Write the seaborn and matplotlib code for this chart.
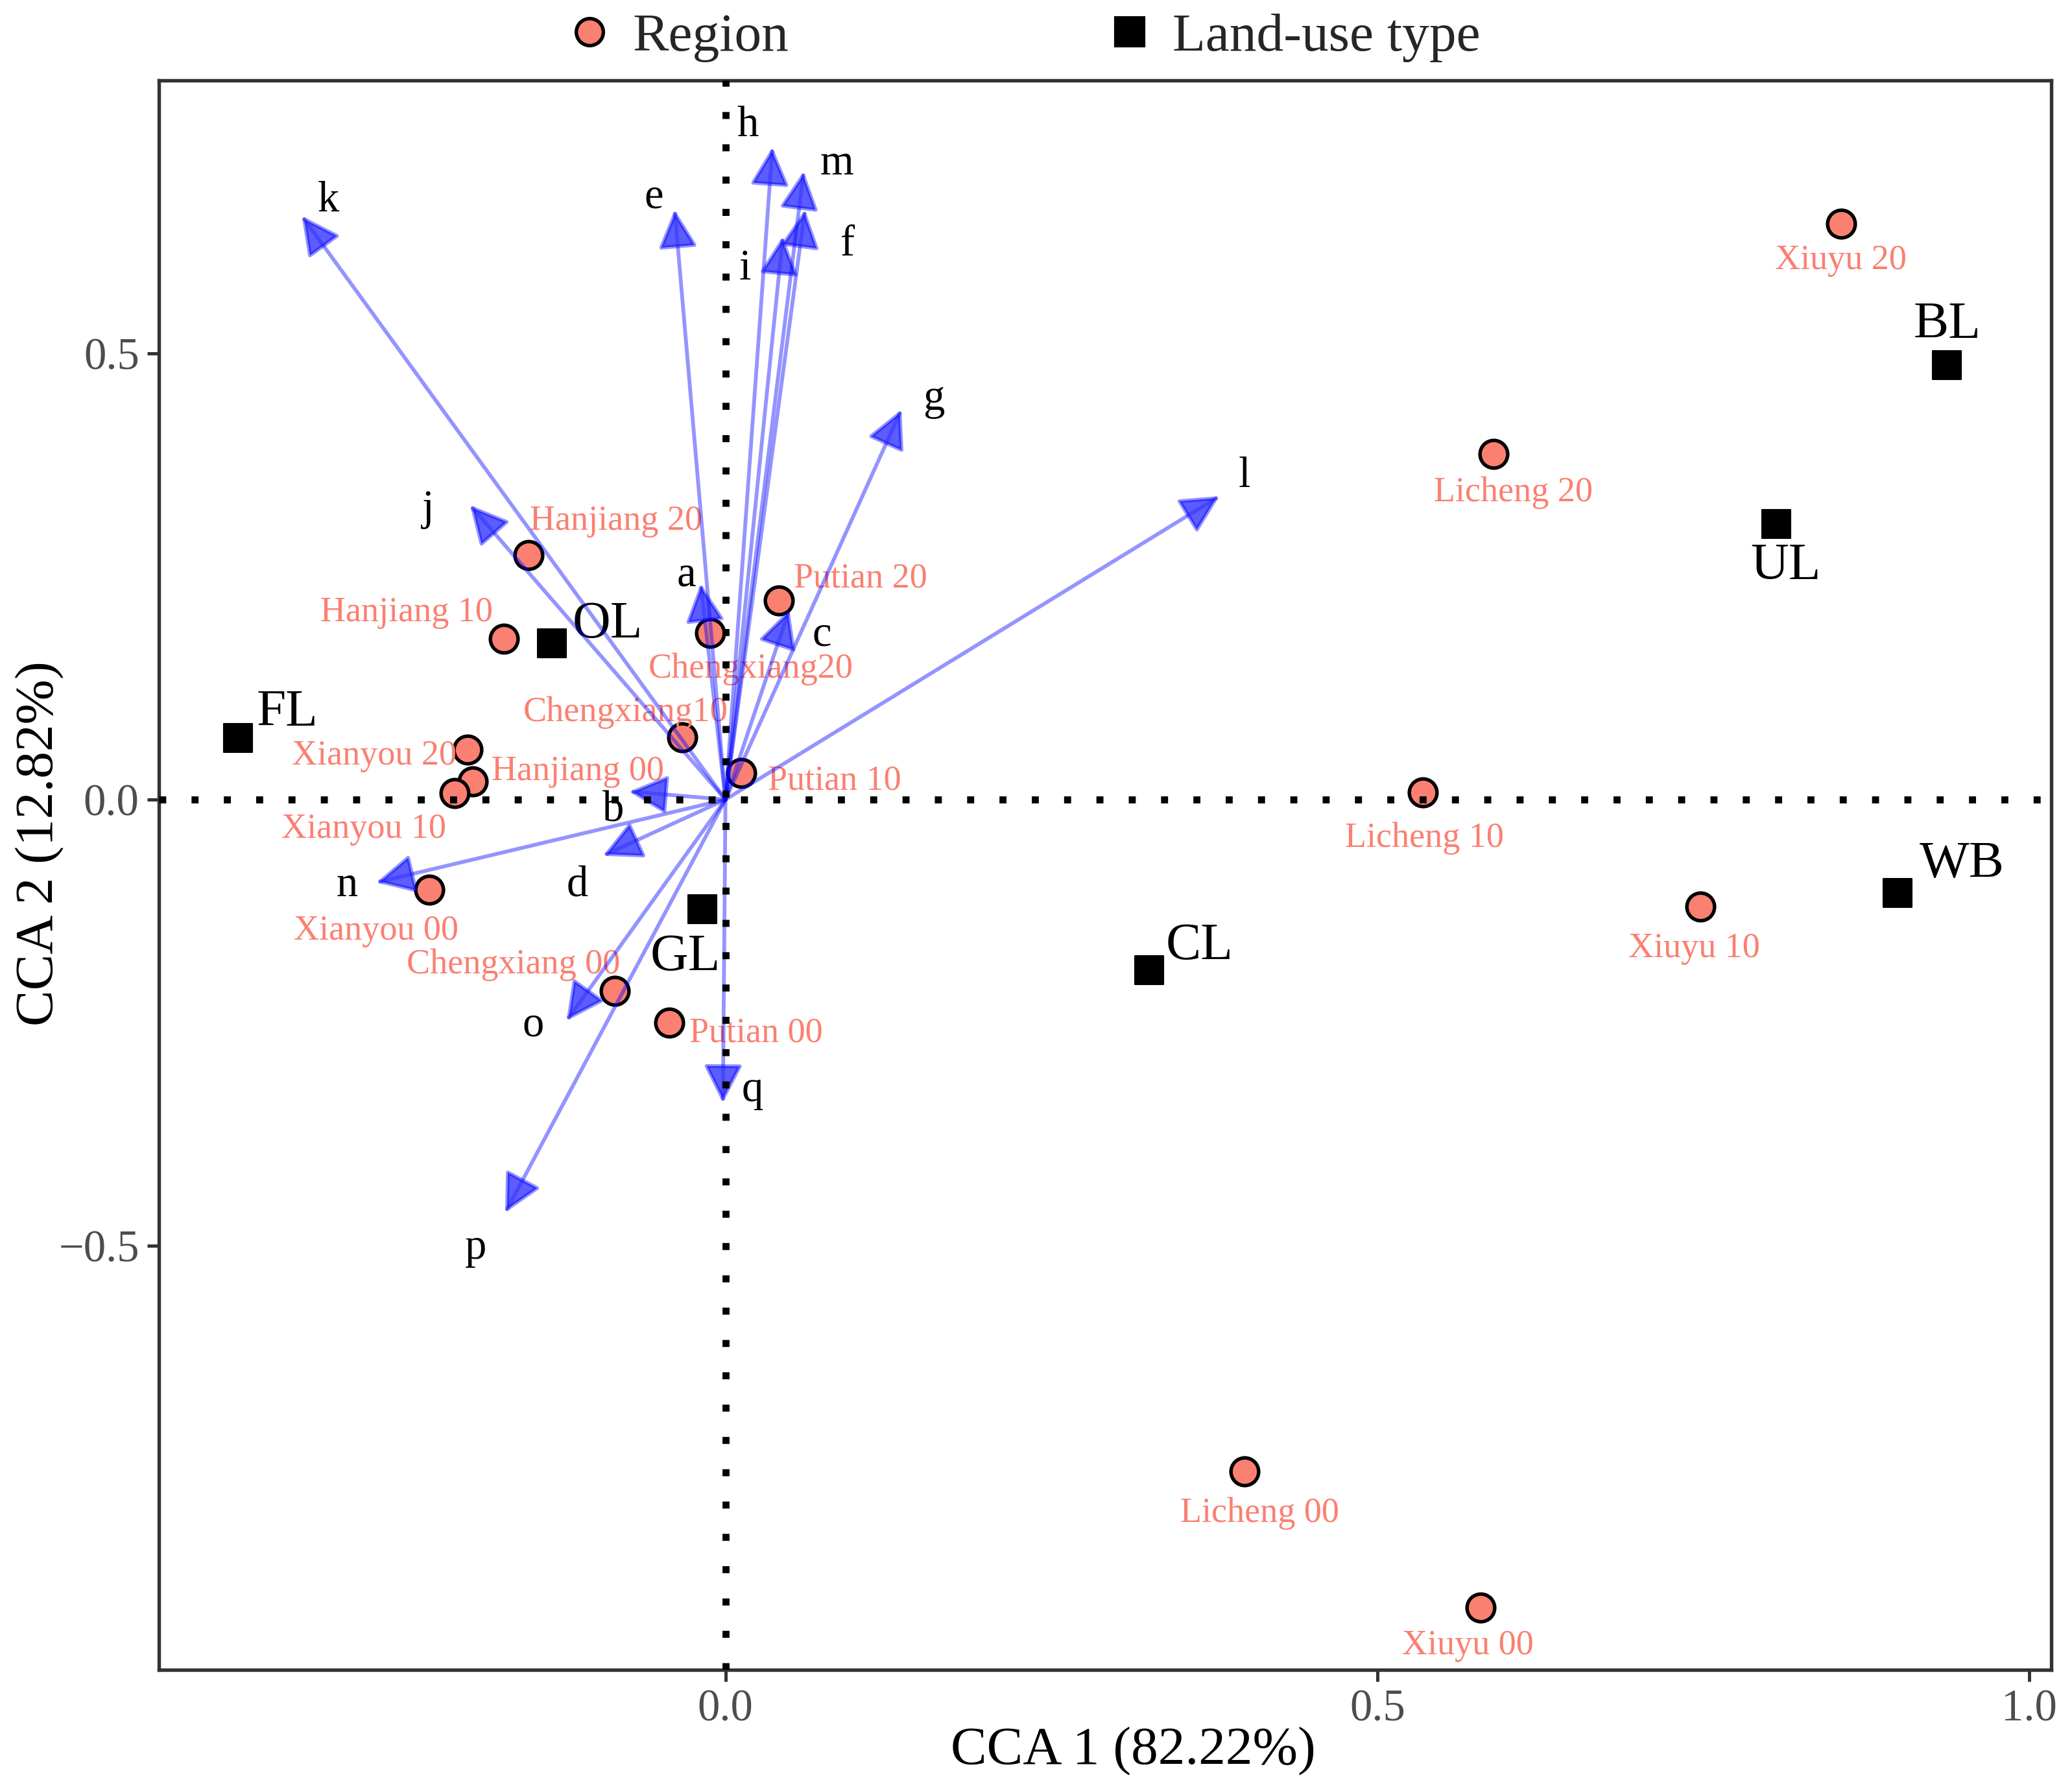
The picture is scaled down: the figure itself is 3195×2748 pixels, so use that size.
import numpy as np
import pandas as pd
import seaborn as sns
import matplotlib.pyplot as plt
from matplotlib.lines import Line2D

# Region (site) scores on CCA1 / CCA2
regions = ["Xiuyu 20", "Licheng 20", "Hanjiang 20", "Putian 20", "Chengxiang20", "Hanjiang 10",
           "Chengxiang10", "Xianyou 20", "Hanjiang 00", "Xianyou 10", "Putian 10", "Licheng 10",
           "Xianyou 00", "Xiuyu 10", "Chengxiang 00", "Putian 00", "Licheng 00", "Xiuyu 00"]
region_x = [0.856, 0.589, -0.151, 0.041, -0.012, -0.170, -0.033, -0.198, -0.194, -0.208,
            0.012, 0.535, -0.227, 0.748, -0.085, -0.043, 0.398, 0.579]
region_y = [0.645, 0.387, 0.274, 0.223, 0.187, 0.180, 0.070, 0.056, 0.020, 0.007,
            0.030, 0.008, -0.101, -0.120, -0.214, -0.250, -0.753, -0.905]

# Land-use type scores
landuse = ["BL", "UL", "WB", "OL", "FL", "GL", "CL"]
landuse_x = [0.937, 0.806, 0.899, -0.133, -0.374, -0.018, 0.325]
landuse_y = [0.487, 0.309, -0.105, 0.175, 0.069, -0.123, -0.191]

# Environmental variable arrows (tips)
variables = list("abcdefghijklmnopq")
var_x = [-0.019, -0.074, 0.049, -0.094, -0.039, 0.061, 0.135, 0.036, 0.044,
         -0.196, -0.325, 0.379, 0.060, -0.268, -0.122, -0.169, -0.002]
var_y = [0.242, 0.009, 0.213, -0.063, 0.661, 0.661, 0.437, 0.731, 0.631,
         0.330, 0.654, 0.340, 0.704, -0.093, -0.248, -0.463, -0.340]

# label offsets (points) so the text sits beside each mark
region_off = [(-0.3, -13.6), (7.4, -14.2), (32.4, 12.5), (30.1, 8.2), (15.2, -13.5), (-36, 9.8),
              (-21.1, 9.2), (-34.5, -2.3), (39, 3.8), (-33.4, -13.3), (34.6, -3), (0.6, -16.9),
              (-19.8, -15.2), (-2.3, -15.6), (-37.5, 9.5), (32, -4), (5.6, -15.4), (-4.6, -14.1)]
landuse_off = [(0.2, 14.7), (3.4, -15.9), (23.9, 10.5), (20.4, 6.8), (18.2, 9.3), (-6.1, -17.9), (18.7, 8.8)]
var_off = [(-5.3, 3.1), (-5.8, -7), (12, -9.3), (-9.5, -11), (-7.8, 4.7), (15.8, -13), (12, 3.9),
           (-9.2, 8.1), (-14, -11.9), (-15.5, -1.7), (9.8, 5.6), (9.3, 7.4), (12.4, 2.8),
           (-10.7, -1.1), (-12.4, -1.7), (-10.9, -13), (11, 4.6)]

df_reg = pd.DataFrame({"label": regions, "CCA1": region_x, "CCA2": region_y})
df_lu = pd.DataFrame({"label": landuse, "CCA1": landuse_x, "CCA2": landuse_y})
df_var = pd.DataFrame({"label": variables, "CCA1": var_x, "CCA2": var_y})

sns.set_theme(style="white")
plt.rcParams["font.family"] = ["Liberation Serif", "DejaVu Serif"]

salmon = "#FA8072"
fig = plt.figure(figsize=(10.65, 9.16), dpi=300)
ax = fig.add_axes([0.0767, 0.063, 0.9133, 0.892])

sns.scatterplot(data=df_reg, x="CCA1", y="CCA2", ax=ax, color=salmon, edgecolor="black",
                linewidth=1.3, s=105, marker="o", zorder=3, legend=False)
sns.scatterplot(data=df_lu, x="CCA1", y="CCA2", ax=ax, color="black", edgecolor="black",
                linewidth=0.5, s=115, marker="s", zorder=3, legend=False)

for (lab, x, y), off in zip(df_reg[["label", "CCA1", "CCA2"]].values, region_off):
    ax.annotate(lab, (x, y), xytext=off, textcoords="offset points", ha="center", va="center",
                fontsize=13, color=salmon, zorder=4)
for (lab, x, y), off in zip(df_lu[["label", "CCA1", "CCA2"]].values, landuse_off):
    ax.annotate(lab, (x, y), xytext=off, textcoords="offset points", ha="center", va="center",
                fontsize=19.5, color="black", zorder=4)

# arrows from origin
for (lab, x, y), off in zip(df_var[["label", "CCA1", "CCA2"]].values, var_off):
    ax.annotate("", xy=(x, y), xytext=(0, 0),
                arrowprops=dict(arrowstyle="-|>,head_length=0.55,head_width=0.28",
                                mutation_scale=22, shrinkA=0, shrinkB=0, lw=1.4,
                                ec=(0.0, 0.0, 1.0, 0.42), fc=(0.2, 0.2, 1.0, 0.8)),
                zorder=5)
    ax.annotate(lab, (x, y), xytext=off, textcoords="offset points", ha="center", va="center",
                fontsize=16, color="black", zorder=6)

# dotted zero lines on top
ax.axhline(0, color="black", lw=2.6, ls=(0, (1, 3.6)), dash_capstyle="butt", zorder=7)
ax.axvline(0, color="black", lw=2.6, ls=(0, (1, 3.6)), dash_capstyle="butt", zorder=7)

ax.set_xlim(-0.4346, 1.017)
ax.set_ylim(-0.975, 0.806)
ax.set_xticks([0.0, 0.5, 1.0])
ax.set_yticks([-0.5, 0.0, 0.5])
ax.set_xticklabels(["0.0", "0.5", "1.0"])
ax.set_yticklabels(["\u22120.5", "0.0", "0.5"])
ax.tick_params(axis="both", which="both", direction="out", length=4.3, width=1.2,
               color="#333333", labelsize=16.5, labelcolor="#4D4D4D", pad=3,
               bottom=True, left=True)
for sp in ax.spines.values():
    sp.set_color("#333333")
    sp.set_linewidth(1.3)
ax.set_xlabel("CCA 1 (82.22%)", fontsize=20, color="black")
ax.set_ylabel("CCA 2 (12.82%)", fontsize=20, color="black")
ax.xaxis.set_label_coords(0.515, -0.036)
ax.yaxis.set_label_coords(-0.05, 0.52)

handles = [
    Line2D([], [], marker="o", ls="none", markersize=10, markerfacecolor=salmon,
           markeredgecolor="black", markeredgewidth=1.3),
    Line2D([], [], marker="s", ls="none", markersize=10.5, markerfacecolor="black",
           markeredgecolor="black"),
]
fig.legend(handles, ["Region", "Land-use type"], loc="center", bbox_to_anchor=(0.493, 0.979),
           ncol=2, frameon=False, fontsize=20, handletextpad=0.3, columnspacing=5.8,
           handlelength=1.0)

fig.savefig("out.png", dpi=300)
